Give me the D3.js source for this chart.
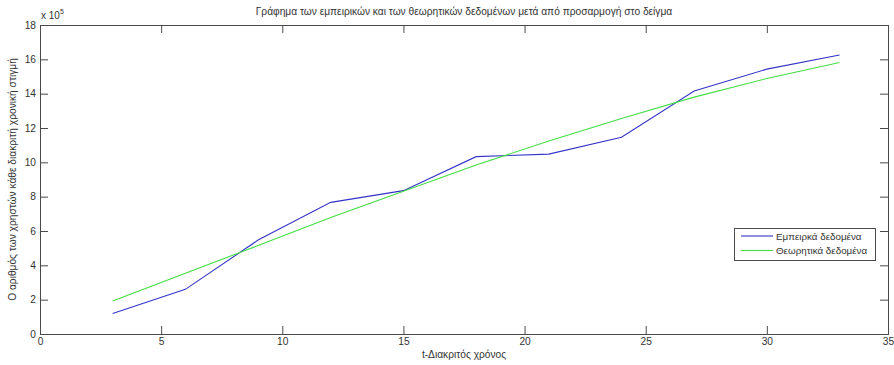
<!DOCTYPE html>
<html>
<head>
<meta charset="utf-8">
<script src="https://cdn.jsdelivr.net/npm/d3@7"></script>
<style>
  html, body { margin: 0; padding: 0; background: #fff; }
  svg { display: block; font-family: "Liberation Sans", Arial, sans-serif; }
</style>
</head>
<body>
<svg id="chart" width="894" height="365"></svg>
<script>
// Time steps (t) and user counts, in units of 10^5
const tValues = [3, 6, 9, 12, 15, 18, 21, 24, 27, 30, 33];
const empirical = [1.2, 2.6, 5.47, 7.67, 8.35, 10.33, 10.48, 11.46, 14.15, 15.43, 16.25];
const theoretical = [1.92, 3.54, 5.15, 6.79, 8.32, 9.84, 11.24, 12.55, 13.8, 14.88, 15.82];

const xTicks = [0, 5, 10, 15, 20, 25, 30, 35];
const yTicks = [0, 2, 4, 6, 8, 10, 12, 14, 16, 18];

const titleText = "Γράφημα των εμπειρικών και των θεωρητικών δεδομένων μετά από προσαρμογή στο δείγμα";
const xLabel = "t-Διακριτός χρόνος";
const yLabel = "Ο αριθμός των χρηστών κάθε διακριτή χρονική στιγμή";
const seriesNames = ["Εμπειρκά δεδομένα", "Θεωρητικά δεδομένα"];
const seriesColors = ["#3434c8", "#44dd44"];

const svg = d3.select("#chart");
const margin = { left: 40, right: 6, top: 25, bottom: 31 };
const W = 894, H = 365;
const x0 = margin.left, x1 = W - margin.right, y0 = H - margin.bottom, y1 = margin.top;

const x = d3.scaleLinear().domain([0, 35]).range([x0, x1]);
const y = d3.scaleLinear().domain([0, 18]).range([y0, y1]);

const axisColor = "#4a4a4a";
const textColor = "#333";
const tickLen = 8;
const fontSize = "10.2px";

// Axes with inward ticks on all four sides (boxed plot)
const g = svg.append("g");

function styleAxis(sel) {
  sel.select(".domain").remove();
  sel.selectAll(".tick line").attr("stroke", axisColor);
  sel.selectAll(".tick text").attr("fill", textColor).style("font-size", fontSize)
    .style("font-family", "'Liberation Sans', Arial, sans-serif");
}

g.append("g").attr("transform", `translate(0,${y0})`)
  .call(d3.axisBottom(x).tickValues(xTicks).tickSize(-tickLen).tickPadding(4).tickFormat(d3.format("d")))
  .call(styleAxis);
g.append("g").attr("transform", `translate(0,${y1})`)
  .call(d3.axisTop(x).tickValues(xTicks).tickSize(-tickLen).tickFormat(""))
  .call(styleAxis);
g.append("g").attr("transform", `translate(${x0},0)`)
  .call(d3.axisLeft(y).tickValues(yTicks).tickSize(-tickLen).tickPadding(4).tickFormat(d3.format("d")))
  .call(styleAxis);
g.append("g").attr("transform", `translate(${x1},0)`)
  .call(d3.axisRight(y).tickValues(yTicks).tickSize(-tickLen).tickFormat(""))
  .call(styleAxis);

// Box outline
g.append("rect")
  .attr("x", x0 + 0.5).attr("y", y1 + 0.5)
  .attr("width", x1 - x0).attr("height", y0 - y1)
  .attr("fill", "none").attr("stroke", axisColor).attr("stroke-width", 1);

// Series lines
const line = d3.line().x((d, i) => x(tValues[i])).y(d => y(d));
[empirical, theoretical].forEach((vals, k) => {
  svg.append("path")
    .datum(vals)
    .attr("d", line)
    .attr("fill", "none")
    .attr("stroke", seriesColors[k])
    .attr("stroke-width", 1.1);
});

// Exponent label
const expText = svg.append("text")
  .attr("x", x0 + 1).attr("y", y1 - 6)
  .attr("fill", textColor).style("font-size", "10px");
expText.append("tspan").text("x 10");
expText.append("tspan").attr("dy", -5).style("font-size", "7px").text("5");

// Title
svg.append("text")
  .attr("x", (x0 + x1) / 2).attr("y", 15)
  .attr("text-anchor", "middle").attr("fill", textColor)
  .style("font-size", fontSize).text(titleText);

// Axis titles
svg.append("text")
  .attr("x", (x0 + x1) / 2).attr("y", 358)
  .attr("text-anchor", "middle").attr("fill", textColor)
  .style("font-size", fontSize).text(xLabel);
svg.append("text")
  .attr("transform", `translate(16,${(y0 + y1) / 2}) rotate(-90)`)
  .attr("text-anchor", "middle").attr("fill", textColor)
  .style("font-size", fontSize).text(yLabel);

// Legend
const lg = svg.append("g").attr("transform", "translate(734,228)");
lg.append("rect").attr("x", 0.5).attr("y", 0.5).attr("width", 141).attr("height", 32)
  .attr("fill", "#fff").attr("stroke", axisColor);
seriesNames.forEach((name, k) => {
  const yy = 8 + k * 14.5;
  lg.append("line").attr("x1", 7).attr("x2", 39).attr("y1", yy).attr("y2", yy)
    .attr("stroke", seriesColors[k]).attr("stroke-width", 1.1);
  lg.append("text").attr("x", 42).attr("y", yy + 3.6)
    .attr("fill", textColor).style("font-size", "9.8px").text(name);
});
</script>
</body>
</html>
